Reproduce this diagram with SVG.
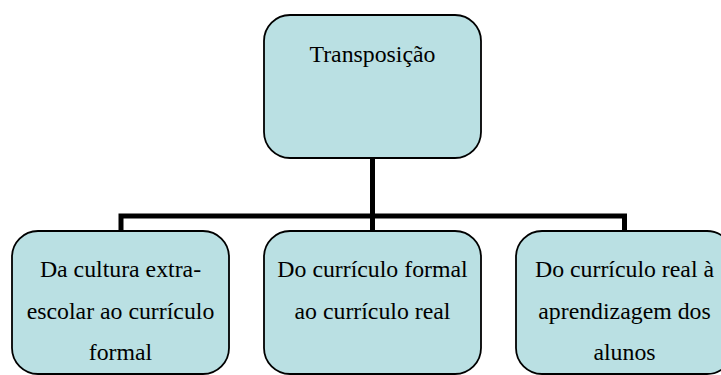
<svg xmlns="http://www.w3.org/2000/svg" width="721" height="375" viewBox="0 0 721 375">
<style>
.box{fill:#BAE0E3;stroke:#000;stroke-width:1.8}
.t{font-family:'Liberation Serif','Times New Roman',serif;font-size:23.8px;fill:#000;text-anchor:middle}
.c{stroke:#000;stroke-width:5;fill:none}
</style>
<rect width="721" height="375" fill="#fff"/>
<g id="connectors">
<path class="c" d="M372.5 158 V231"/>
<path class="c" d="M121 231 V216 H624.5 V231"/>
</g>
<g id="n-transposicao">
<rect class="box" x="264" y="15" width="217" height="143" rx="26" ry="26"/>
<text class="t" x="372.5" y="62">Transposição</text>
</g>
<g id="n-cultura">
<rect class="box" x="12" y="231" width="217" height="143" rx="26" ry="26"/>
<text class="t" x="120.5" y="277">Da cultura extra-</text>
<text class="t" x="120.5" y="318.5">escolar ao currículo</text>
<text class="t" x="120.5" y="360">formal</text>
</g>
<g id="n-formal">
<rect class="box" x="264" y="231" width="217" height="143" rx="26" ry="26"/>
<text class="t" x="372.5" y="277">Do currículo formal</text>
<text class="t" x="372.5" y="318.5">ao currículo real</text>
</g>
<g id="n-real">
<rect class="box" x="516" y="231" width="217" height="143" rx="26" ry="26"/>
<text class="t" x="624.5" y="277">Do currículo real à</text>
<text class="t" x="624.5" y="318.5">aprendizagem dos</text>
<text class="t" x="624.5" y="360">alunos</text>
</g>
</svg>
